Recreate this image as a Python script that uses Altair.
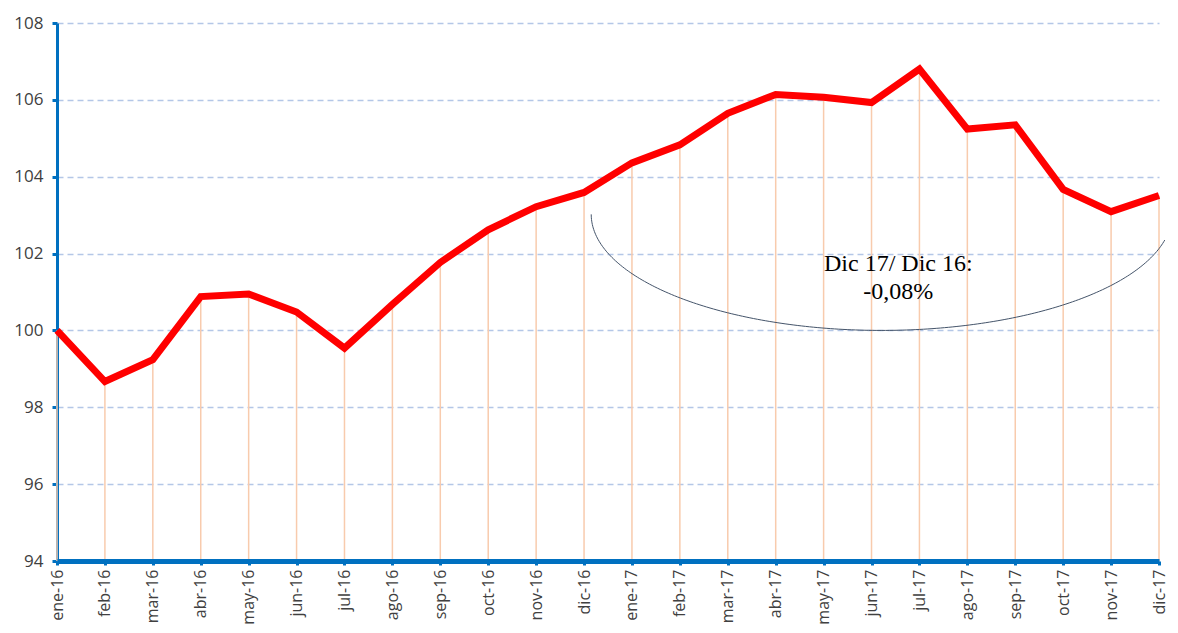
import json
import numpy as np
import pandas as pd
import altair as alt

months = ["ene-16", "feb-16", "mar-16", "abr-16", "may-16", "jun-16",
          "jul-16", "ago-16", "sep-16", "oct-16", "nov-16", "dic-16",
          "ene-17", "feb-17", "mar-17", "abr-17", "may-17", "jun-17",
          "jul-17", "ago-17", "sep-17", "oct-17", "nov-17", "dic-17"]
values = [100.0, 98.67, 99.24, 100.88, 100.95, 100.48,
          99.54, 100.68, 101.77, 102.62, 103.22, 103.59,
          104.36, 104.83, 105.65, 106.14, 106.07, 105.93,
          106.80, 105.24, 105.35, 103.67, 103.09, 103.51]
y_ticks = [94, 96, 98, 100, 102, 104, 106, 108]
note_lines = ["Dic 17/ Dic 16:", "-0,08%"]

# annotation ellipse (lower half), in data units
ell_cx, ell_cy, ell_a, ell_b = 17.21, 103.02, 6.06, 3.02
ell_xmax = 23.12

df = pd.DataFrame({"idx": list(range(len(months))), "mes": months, "valor": values})

theta_end = float(np.arccos(-(ell_xmax - ell_cx) / ell_a))
th = np.linspace(0.0, theta_end, 200)
ell = pd.DataFrame({
    "ex": ell_cx - ell_a * np.cos(th),
    "ey": ell_cy - ell_b * np.sin(th),
    "k": np.arange(len(th)),
})

note = pd.DataFrame({"tx": [17.56, 17.56], "ty": [101.72, 101.01], "t": note_lines})

blue = "#0070C0"
label_expr = json.dumps(months) + "[datum.value]"

x_enc = alt.X("idx:Q",
              scale=alt.Scale(domain=[0, len(months) - 1], nice=False, zero=False),
              axis=alt.Axis(values=list(range(len(months))), labelExpr=label_expr,
                            labelAngle=-90, labelFont="Open Sans", labelFontSize=16,
                            labelColor="#404040", labelPadding=4,
                            domainColor=blue, domainWidth=5, tickColor=blue,
                            tickWidth=3, tickSize=4, grid=False, title=None, zindex=1))
y_enc = alt.Y("valor:Q",
              scale=alt.Scale(domain=[94, 108], nice=False, zero=False),
              axis=alt.Axis(values=y_ticks, labelFont="Open Sans", labelFontSize=17,
                            labelColor="#404040", labelPadding=9,
                            domainColor=blue, domainWidth=3, tickColor=blue,
                            tickWidth=3, tickSize=5, grid=True, gridColor="#B4C7E7",
                            gridDash=[6, 4], gridWidth=1.5, title=None))

drops = alt.Chart(df).mark_rule(color="#F8CBAD", strokeWidth=1.5).encode(
    x=x_enc, y=y_enc, y2=alt.datum(94))

line = alt.Chart(df).mark_line(color="#FF0000", strokeWidth=7, strokeJoin="miter").encode(
    x=x_enc, y=y_enc)

arc = alt.Chart(ell).mark_line(color="#44546A", strokeWidth=1).encode(
    x=alt.X("ex:Q"), y=alt.Y("ey:Q"), order="k:Q")

txt = alt.Chart(note).mark_text(font="Liberation Serif", fontSize=24, color="#000000",
                                align="center", baseline="middle").encode(
    x=alt.X("tx:Q"), y=alt.Y("ty:Q"), text="t:N")

chart = alt.layer(drops, line, arc, txt).properties(
    width=1102, height=538,
    autosize=alt.AutoSizeParams(type="none"),
    padding={"left": 49, "top": 15, "right": 11, "bottom": 64},
).configure_view(strokeWidth=0)

chart.save("out.html", embed_options={"renderer": "svg", "actions": False})
